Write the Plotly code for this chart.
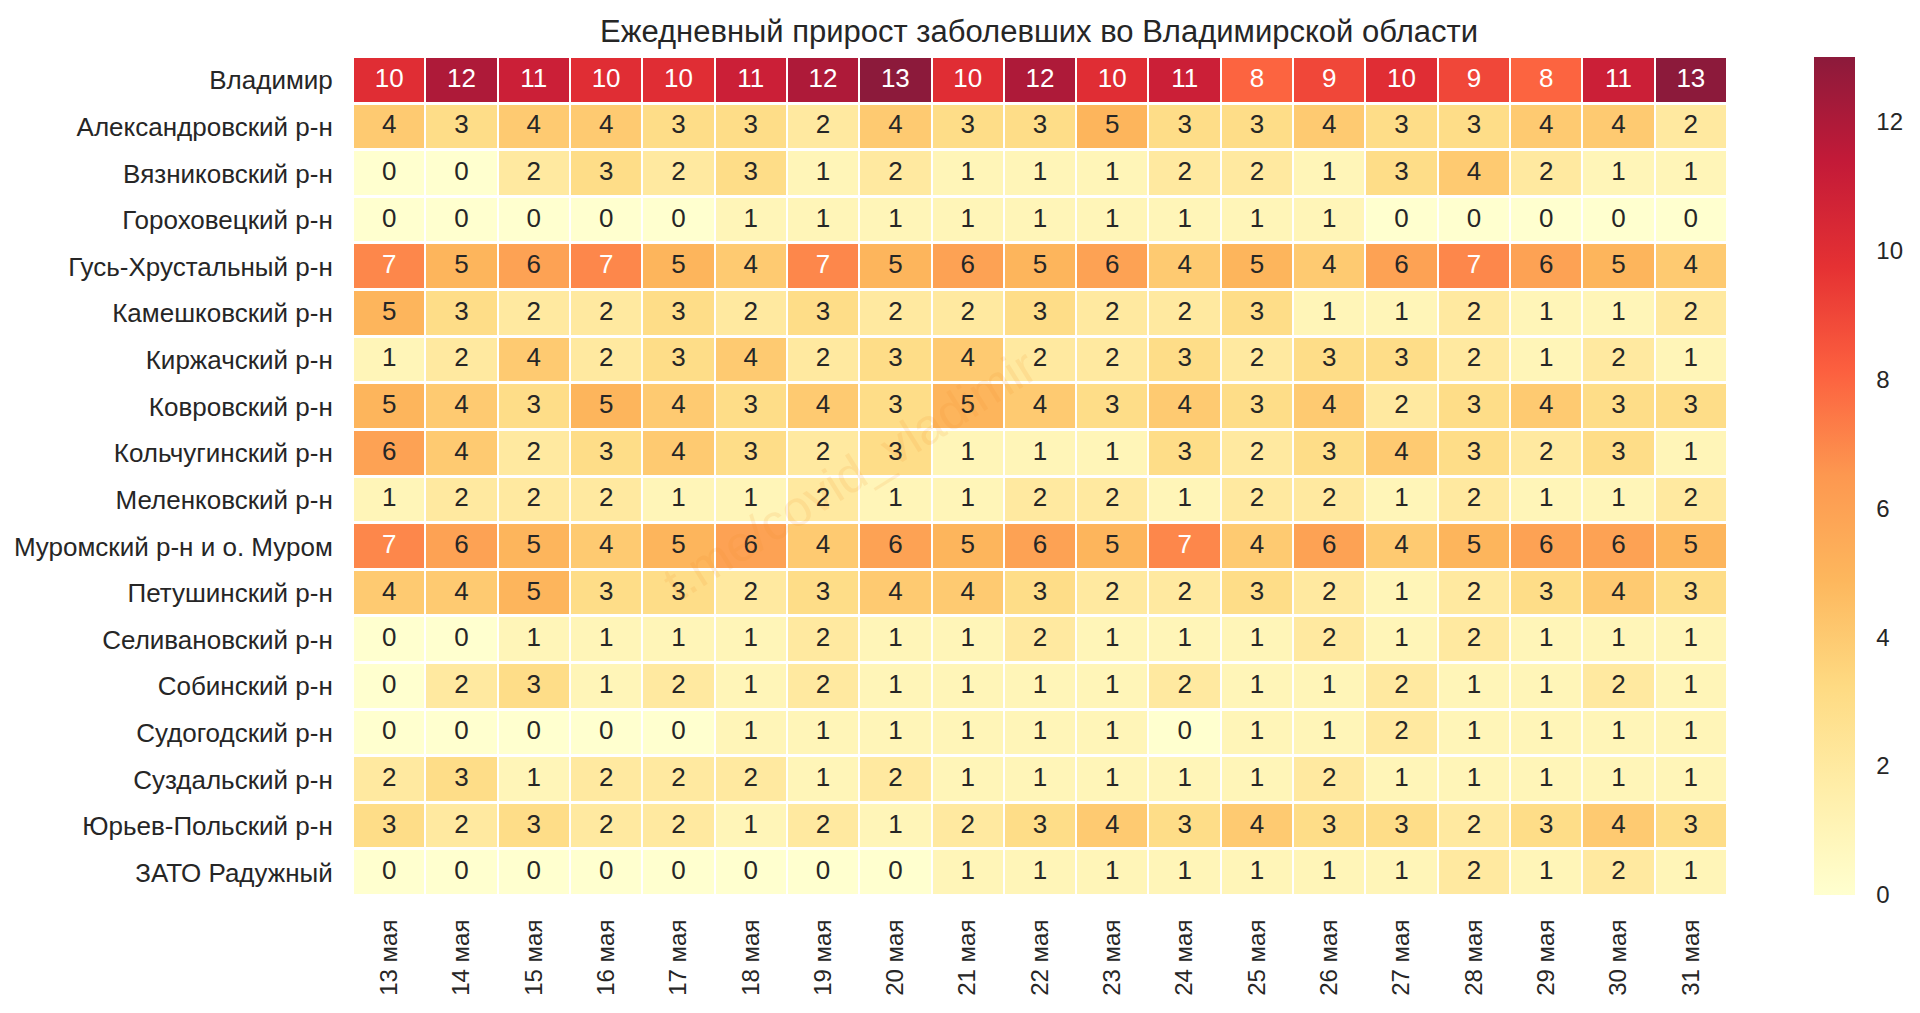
import plotly.graph_objects as go

regions = ['Владимир', 'Александровский р-н', 'Вязниковский р-н', 'Гороховецкий р-н',
           'Гусь-Хрустальный р-н', 'Камешковский р-н', 'Киржачский р-н', 'Ковровский р-н',
           'Кольчугинский р-н', 'Меленковский р-н', 'Муромский р-н и о. Муром', 'Петушинский р-н',
           'Селивановский р-н', 'Собинский р-н', 'Судогодский р-н', 'Суздальский р-н',
           'Юрьев-Польский р-н', 'ЗАТО Радужный']
days = ['13 мая', '14 мая', '15 мая', '16 мая', '17 мая', '18 мая', '19 мая', '20 мая', '21 мая', '22 мая',
        '23 мая', '24 мая', '25 мая', '26 мая', '27 мая', '28 мая', '29 мая', '30 мая', '31 мая']
cases = [
    [10, 12, 11, 10, 10, 11, 12, 13, 10, 12, 10, 11, 8, 9, 10, 9, 8, 11, 13],
    [4, 3, 4, 4, 3, 3, 2, 4, 3, 3, 5, 3, 3, 4, 3, 3, 4, 4, 2],
    [0, 0, 2, 3, 2, 3, 1, 2, 1, 1, 1, 2, 2, 1, 3, 4, 2, 1, 1],
    [0, 0, 0, 0, 0, 1, 1, 1, 1, 1, 1, 1, 1, 1, 0, 0, 0, 0, 0],
    [7, 5, 6, 7, 5, 4, 7, 5, 6, 5, 6, 4, 5, 4, 6, 7, 6, 5, 4],
    [5, 3, 2, 2, 3, 2, 3, 2, 2, 3, 2, 2, 3, 1, 1, 2, 1, 1, 2],
    [1, 2, 4, 2, 3, 4, 2, 3, 4, 2, 2, 3, 2, 3, 3, 2, 1, 2, 1],
    [5, 4, 3, 5, 4, 3, 4, 3, 5, 4, 3, 4, 3, 4, 2, 3, 4, 3, 3],
    [6, 4, 2, 3, 4, 3, 2, 3, 1, 1, 1, 3, 2, 3, 4, 3, 2, 3, 1],
    [1, 2, 2, 2, 1, 1, 2, 1, 1, 2, 2, 1, 2, 2, 1, 2, 1, 1, 2],
    [7, 6, 5, 4, 5, 6, 4, 6, 5, 6, 5, 7, 4, 6, 4, 5, 6, 6, 5],
    [4, 4, 5, 3, 3, 2, 3, 4, 4, 3, 2, 2, 3, 2, 1, 2, 3, 4, 3],
    [0, 0, 1, 1, 1, 1, 2, 1, 1, 2, 1, 1, 1, 2, 1, 2, 1, 1, 1],
    [0, 2, 3, 1, 2, 1, 2, 1, 1, 1, 1, 2, 1, 1, 2, 1, 1, 2, 1],
    [0, 0, 0, 0, 0, 1, 1, 1, 1, 1, 1, 0, 1, 1, 2, 1, 1, 1, 1],
    [2, 3, 1, 2, 2, 2, 1, 2, 1, 1, 1, 1, 1, 2, 1, 1, 1, 1, 1],
    [3, 2, 3, 2, 2, 1, 2, 1, 2, 3, 4, 3, 4, 3, 3, 2, 3, 4, 3],
    [0, 0, 0, 0, 0, 0, 0, 0, 1, 1, 1, 1, 1, 1, 1, 2, 1, 2, 1],
]

W, H = 1920, 1013
PAGE = 8  # the browser's body margin
font_name = 'Liberation Sans'
dark = '#262626'


def fx(px):
    return (px - PAGE) / W


def fy(px):
    return 1 - (px - PAGE) / H


# YlOrRd, slightly washed out like the original
ylorrd = ['#ffffcf', '#ffeea9', '#feda82', '#fdb75d', '#fd9850', '#fc603f', '#e53133', '#c31a38', '#8c1a3b']
scale = [[i / 8, c] for i, c in enumerate(ylorrd)]

fig = go.Figure()
fig.add_trace(go.Heatmap(z=cases, x=days, y=regions, zmin=0, zmax=13, colorscale=scale,
                         xgap=2, ygap=3, hoverinfo='skip',
                         colorbar=dict(thickness=41, len=838 / H, lenmode='fraction', x=fx(1814), xref='paper',
                                       xanchor='left', xpad=0, ypad=0, y=fy(476), yanchor='middle',
                                       outlinewidth=0, tickvals=[0, 2, 4, 6, 8, 10, 12],
                                       ticks='outside', ticklen=17, tickcolor='white',
                                       tickfont=dict(family=font_name, size=24, color=dark))))

# cell labels, white on the dark cells
xs, ys, labels, colours = [], [], [], []
for row, name in zip(cases, regions):
    for val, day in zip(row, days):
        xs.append(day)
        ys.append(name)
        labels.append(str(val))
        colours.append('white' if val >= 7 else dark)
fig.add_trace(go.Scatter(x=xs, y=ys, mode='text', text=labels, textposition='middle center',
                         textfont=dict(family=font_name, size=26, color=colours),
                         hoverinfo='skip', showlegend=False))

fig.add_annotation(text='t.me/covid_vladimir', xref='paper', yref='paper', x=fx(850), y=fy(475),
                   showarrow=False, textangle=-32, opacity=0.12,
                   font=dict(family=font_name, size=50, color='#f08a24'))

fig.update_layout(width=W, height=H, template=None, plot_bgcolor='white', paper_bgcolor='white',
                  margin=dict(l=0, r=0, t=0, b=0), showlegend=False,
                  title=dict(text='Ежедневный прирост заболевших во Владимирской области', x=fx(1039),
                             xref='paper', xanchor='center', y=fy(31), yanchor='middle',
                             font=dict(family=font_name, size=31, color=dark)))
fig.update_xaxes(type='category', domain=[fx(353), fx(1727)], range=[-0.5, len(days) - 0.5], tickangle=-90,
                 showgrid=False, zeroline=False, showline=False, ticks='outside', ticklen=13, tickcolor='white',
                 tickfont=dict(family=font_name, size=24, color=dark))
fig.update_yaxes(type='category', domain=[fy(896), fy(57)], range=[len(regions) - 0.5, -0.5], showgrid=False,
                 zeroline=False, showline=False, ticks='outside', ticklen=14, tickcolor='white',
                 tickfont=dict(family=font_name, size=26, color=dark))

fig.write_html("out.html")
